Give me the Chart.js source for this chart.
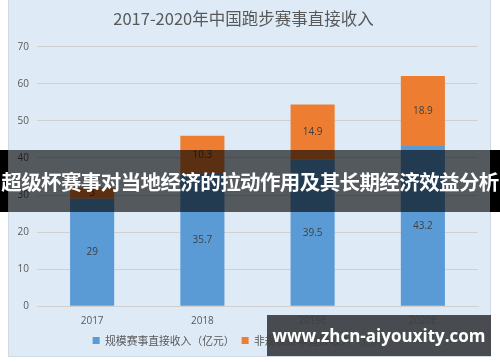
<!DOCTYPE html>
<html>
<head>
<meta charset="utf-8">
<script src="https://cdn.jsdelivr.net/npm/chart.js@4"></script>
<style>
  body { margin: 0; background: #fff; width: 500px; height: 362px; overflow: hidden; position: relative; font-family: "Noto Sans CJK SC", sans-serif; }
  #box { position: absolute; left: 8px; top: 0; width: 481px; height: 356px; background: #deebf7; border: 1px solid #cfd9e3; border-top: none; }
  #banner { position: absolute; left: 0; top: 150px; width: 500px; height: 62px; }
  #banner .edge { position: absolute; top: 0; height: 62px; background: #000; }
  #banner .shade { position: absolute; left: 8px; top: 0; width: 482px; height: 62px; background: rgba(0,0,0,0.62); }
  #banner .txt { position: absolute; left: 0; top: 0; width: 500px; line-height: 62px; text-align: center; color: #fff; font-weight: bold; font-size: 20.5px; letter-spacing: -0.6px; white-space: nowrap; }
  #mark { position: absolute; left: 267px; top: 315px; width: 224px; height: 41px; background: rgba(60,62,66,0.93); color: #fff; font-weight: bold; font-size: 17px; line-height: 41px; text-align: center; font-family: "Open Sans", sans-serif; }
</style>
</head>
<body>
<div id="box"><canvas id="c" width="481" height="356"></canvas></div>
<div id="banner">
  <div class="edge" style="left:0;width:8px"></div>
  <div class="edge" style="left:490px;width:10px"></div>
  <div class="shade"></div>
  <div class="txt">超级杯赛事对当地经济的拉动作用及其长期经济效益分析</div>
</div>
<div id="mark">www.zhcn-aiyouxity.com</div>
<script>
const years = ['2017', '2018', '2019E', '2020E'];
const scaleIncome = [29, 35.7, 39.5, 43.2];
const otherIncome = [3.0, 10.3, 14.9, 18.9];
const yTicks = [0, 10, 20, 30, 40, 50, 60, 70];

// Labels drawn in the middle of each bar segment
const segmentLabels = {
    id: 'segmentLabels',
    afterDatasetsDraw(chart) {
        const ctx = chart.ctx;
        ctx.save();
        ctx.font = '10px "Open Sans", "Noto Sans CJK SC"';
        ctx.fillStyle = '#404040';
        ctx.textAlign = 'center';
        ctx.textBaseline = 'middle';
        chart.data.datasets.forEach((ds, i) => {
            chart.getDatasetMeta(i).data.forEach((bar, j) => {
                ctx.fillText(String(ds.data[j]), bar.x, (bar.y + bar.base) / 2);
            });
        });
        ctx.restore();
    }
};

new Chart(document.getElementById('c').getContext('2d'), {
    type: 'bar',
    data: {
        labels: years,
        datasets: [{
            label: '规模赛事直接收入（亿元）',
            data: scaleIncome,
            backgroundColor: '#5b9bd5',
            categoryPercentage: 1,
            barPercentage: 0.4
        }, {
            label: '非规模赛事直接收入（亿元）',
            data: otherIncome,
            backgroundColor: '#ed7d31',
            categoryPercentage: 1,
            barPercentage: 0.4
        }]
    },
    options: {
        responsive: false,
        animation: false,
        layout: { padding: { left: 0, right: 12, top: 4, bottom: 0 } },
        plugins: {
            title: {
                display: true,
                text: '2017-2020年中国跑步赛事直接收入',
                color: '#595959',
                font: { size: 16.5, family: '"Noto Sans CJK SC"', weight: 'normal' },
                padding: { top: 5, bottom: 18 }
            },
            legend: {
                position: 'bottom',
                labels: {
                    boxWidth: 7,
                    boxHeight: 7,
                    color: '#595959',
                    font: { size: 10.8, family: '"Noto Sans CJK SC"' },
                    padding: 7
                }
            },
            tooltip: { enabled: false }
        },
        scales: {
            x: {
                stacked: true,
                grid: { display: false },
                border: { color: '#d0d0d0' },
                ticks: { color: '#595959', font: { size: 10, family: '"Open Sans"' }, padding: 1 }
            },
            y: {
                stacked: true,
                min: 0,
                max: 70,
                afterBuildTicks: axis => { axis.ticks = yTicks.map(v => ({ value: v })); },
                afterFit: axis => { axis.width = 28; },
                grid: { color: '#d0d0d0', drawTicks: false },
                border: { display: false },
                ticks: { color: '#595959', font: { size: 10, family: '"Open Sans"' }, padding: 8 }
            }
        }
    },
    plugins: [segmentLabels]
});
</script>
</body>
</html>
